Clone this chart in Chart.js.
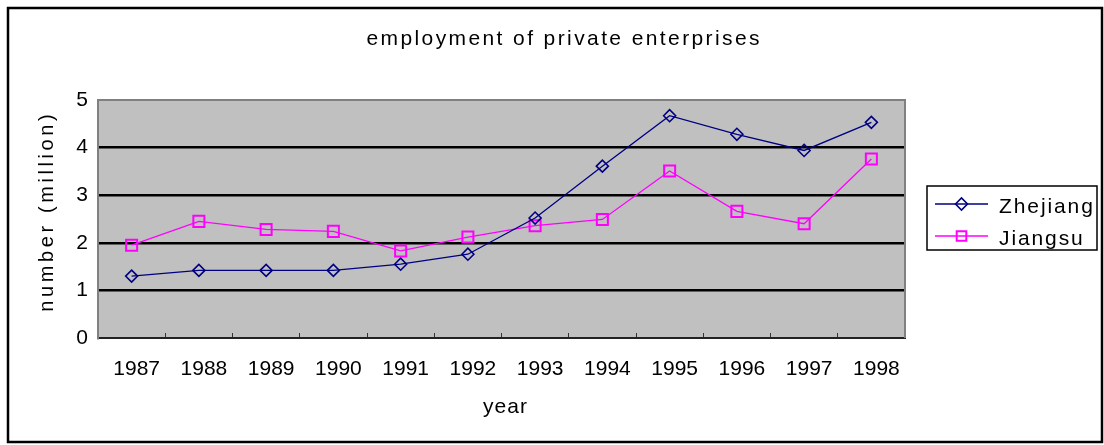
<!DOCTYPE html>
<html lang="en">
<head>
  <meta charset="UTF-8" />
  <title>employment of private enterprises</title>
  <script src="https://cdn.jsdelivr.net/npm/chart.js"></script>
  <style>
    html, body { margin: 0; padding: 0; background: #fff; }
    #grafico { display: block; }
  </style>
</head>
<body>
  <canvas id="grafico" width="1104" height="445"></canvas>
  <script>
    // Datos (millones de empleados)
    const years = ['1987', '1988', '1989', '1990', '1991', '1992', '1993', '1994', '1995', '1996', '1997', '1998'];
    const zhejiang = [1.30, 1.42, 1.42, 1.42, 1.55, 1.76, 2.52, 3.61, 4.67, 4.28, 3.94, 4.53];
    const jiangsu = [1.95, 2.45, 2.28, 2.24, 1.83, 2.12, 2.36, 2.49, 3.51, 2.66, 2.40, 3.76];
    const yMin = 0, yMax = 5, yStep = 1;

    const FAMILY = 'Arial, "Liberation Sans", sans-serif';

    // texto con espaciado entre letras
    function texto(ctx, str, x, y, size, spacing, align) {
      ctx.save();
      ctx.font = size + 'px ' + FAMILY;
      ctx.letterSpacing = spacing + 'px';
      ctx.fillStyle = '#000';
      ctx.textAlign = align || 'center';
      ctx.textBaseline = 'alphabetic';
      ctx.fillText(str, x + (align === 'left' ? 0 : spacing / 2), y);
      ctx.restore();
    }

    const marco = {
      id: 'marco',
      beforeDraw(chart) {
        const { ctx, chartArea: a } = chart;
        ctx.save();
        ctx.fillStyle = '#fff';
        ctx.fillRect(0, 0, chart.width, chart.height);
        ctx.fillStyle = '#c0c0c0';
        ctx.fillRect(a.left, a.top, a.right - a.left, a.bottom - a.top);
        ctx.restore();
      },
      beforeDatasetsDraw(chart) {
        const { ctx, chartArea: a } = chart;
        ctx.save();
        ctx.strokeStyle = '#808080';
        ctx.lineWidth = 2;
        ctx.beginPath();
        ctx.moveTo(a.left, a.top);
        ctx.lineTo(a.right, a.top);
        ctx.lineTo(a.right, a.bottom);
        ctx.stroke();
        ctx.restore();
      },
      afterDraw(chart) {
        const { ctx } = chart;

        // borde exterior
        ctx.save();
        ctx.strokeStyle = '#000';
        ctx.lineWidth = 2.5;
        ctx.strokeRect(8, 8, 1094, 434);
        ctx.restore();

        // títulos
        texto(ctx, 'employment of private enterprises', 563, 45, 21, 2.4);
        texto(ctx, 'year', 505, 413, 21, 1);
        ctx.save();
        ctx.translate(53, 213);
        ctx.rotate(-Math.PI / 2);
        texto(ctx, 'number (million)', 0, 0, 20, 3.6);
        ctx.restore();

        // leyenda
        const lx = 927, ly = 186, lw = 170, lh = 64;
        ctx.save();
        ctx.strokeStyle = '#000';
        ctx.lineWidth = 1.5;
        ctx.strokeRect(lx, ly, lw, lh);
        chart.data.datasets.forEach((ds, i) => {
          const y = ly + 18 + i * 32;
          ctx.strokeStyle = ds.borderColor;
          ctx.lineWidth = ds.borderWidth;
          ctx.beginPath();
          ctx.moveTo(935, y);
          ctx.lineTo(988, y);
          ctx.stroke();
          ctx.fillStyle = 'rgba(0,0,0,0)';
          ctx.lineWidth = ds.pointBorderWidth;
          Chart.helpers.drawPoint(ctx, {
            pointStyle: ds.pointStyle,
            radius: ds.legendRadius,
            borderWidth: ds.pointBorderWidth,
            rotation: 0
          }, 961.5, y);
          texto(ctx, ds.label, 999, y + 8.5, 21, 1.9, 'left');
        });
        ctx.restore();
      }
    };

    new Chart(document.getElementById('grafico'), {
      type: 'line',
      data: {
        labels: years,
        datasets: [
          {
            label: 'Zhejiang',
            data: zhejiang,
            borderColor: '#000080',
            borderWidth: 1.3,
            pointStyle: 'rectRot',
            pointRadius: 6,
            legendRadius: 6,
            pointBorderWidth: 1.6,
            pointBorderColor: '#000080',
            pointBackgroundColor: 'rgba(0,0,0,0)',
            tension: 0
          },
          {
            label: 'Jiangsu',
            data: jiangsu,
            borderColor: '#ff00ff',
            borderWidth: 1.3,
            pointStyle: 'rect',
            pointRadius: 7.8,
            legendRadius: 6.8,
            pointBorderWidth: 2,
            pointBorderColor: '#ff00ff',
            pointBackgroundColor: 'rgba(0,0,0,0)',
            tension: 0
          }
        ]
      },
      options: {
        responsive: false,
        animation: false,
        devicePixelRatio: 1,
        layout: { padding: { top: 100, left: 0, right: 199, bottom: 0 } },
        plugins: {
          legend: { display: false },
          tooltip: { enabled: false },
          title: { display: false }
        },
        scales: {
          x: {
            offset: true,
            afterFit(s) { s.height = 107; },
            ticks: {
              color: '#000',
              padding: 24,
              labelOffset: 5,
              maxRotation: 0,
              autoSkip: false,
              font: { family: FAMILY, size: 21 }
            },
            grid: {
              offset: true,
              drawOnChartArea: false,
              tickLength: -5,
              color: '#333',
              lineWidth: 1
            },
            border: { color: '#222', width: 2 }
          },
          y: {
            min: yMin,
            max: yMax,
            afterFit(s) { s.width = 98; },
            ticks: {
              stepSize: yStep,
              color: '#000',
              padding: 10,
              font: { family: FAMILY, size: 21 }
            },
            grid: {
              color: c => (c.tick.value > yMin && c.tick.value < yMax) ? '#000' : 'rgba(0,0,0,0)',
              lineWidth: 2.5,
              drawTicks: false
            },
            border: { color: '#808080', width: 2 }
          }
        }
      },
      plugins: [marco]
    });
  </script>
</body>
</html>
